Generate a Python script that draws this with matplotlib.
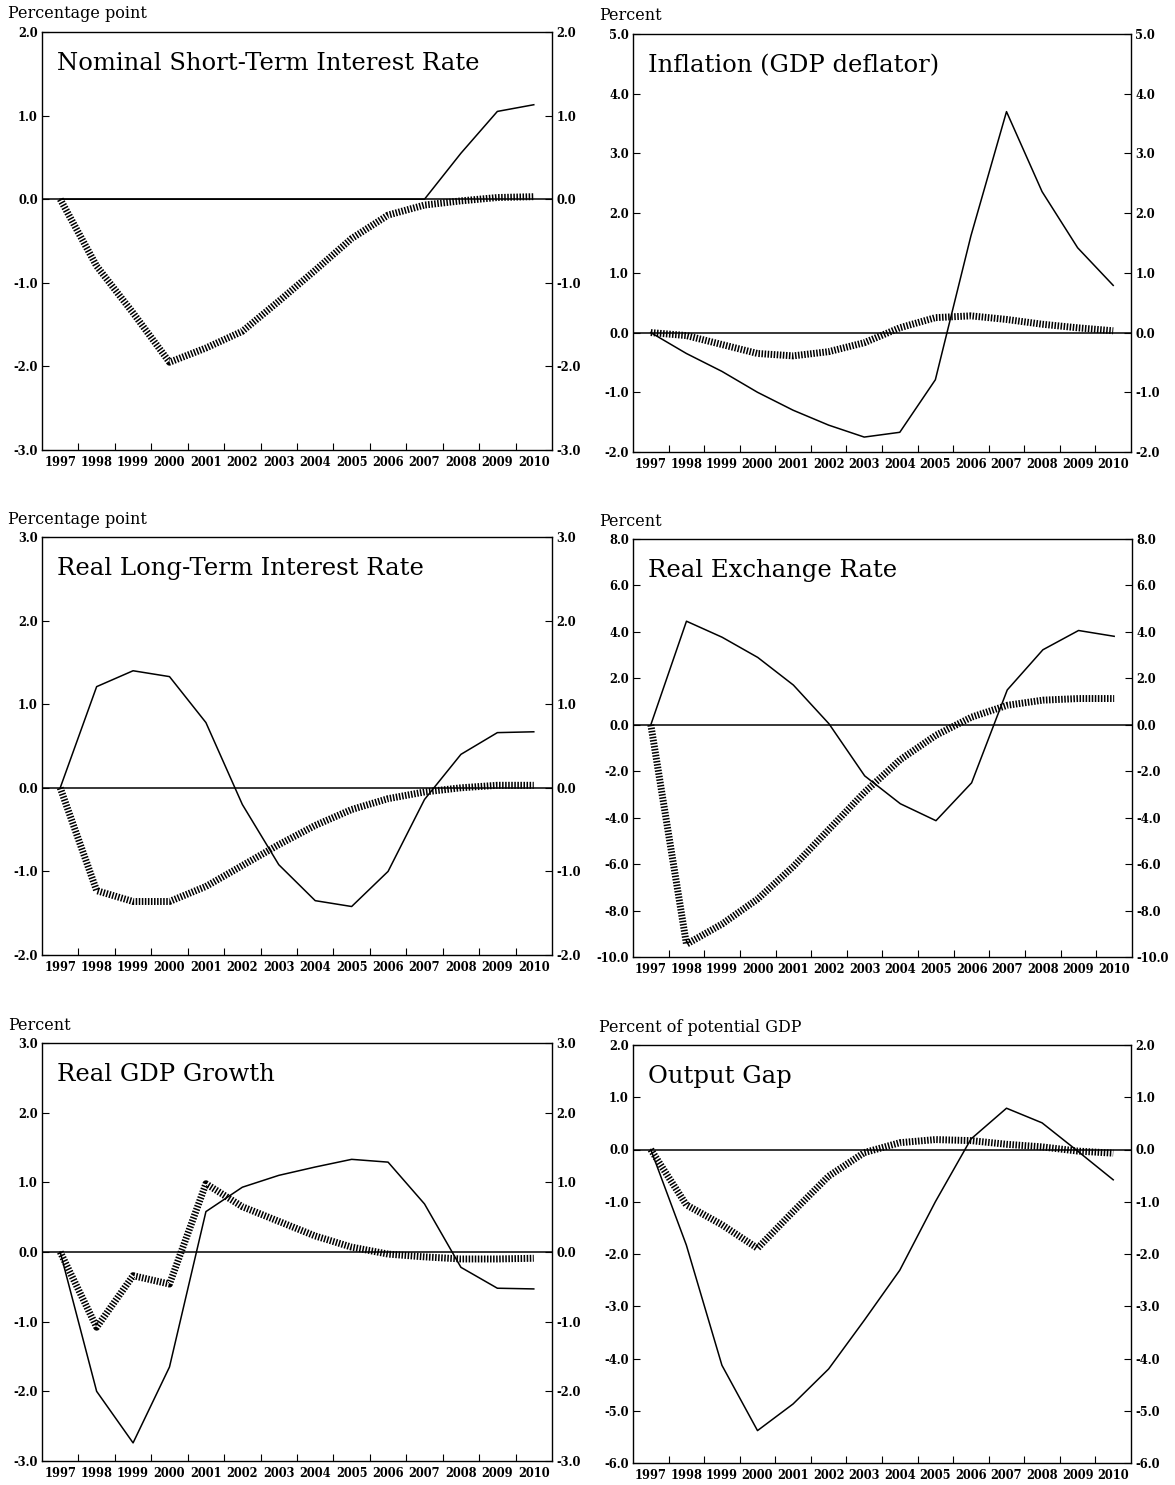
import matplotlib
matplotlib.use("Agg")
import matplotlib.pyplot as plt
from matplotlib.ticker import FixedLocator

years = list(range(1997, 2011))

# Nominal short-term interest rate (percentage point)
nominal_solid = [0.0, 0.0, 0.0, 0.0, 0.0, 0.0, 0.0, 0.0, 0.0, 0.0, 0.0, 0.55, 1.05, 1.13]
nominal_hatched = [0.0, -0.8, -1.36, -1.95, -1.78, -1.58, -1.22, -0.85, -0.47, -0.19, -0.07, -0.02, 0.02, 0.03]

# Inflation (GDP deflator), percent
inflation_solid = [0.0, -0.35, -0.65, -1.0, -1.3, -1.55, -1.75, -1.67, -0.79, 1.62, 3.7, 2.36, 1.42, 0.79]
inflation_hatched = [0.0, -0.05, -0.2, -0.35, -0.39, -0.32, -0.17, 0.08, 0.25, 0.28, 0.22, 0.14, 0.08, 0.03]

# Real long-term interest rate (percentage point)
longrate_solid = [0.0, 1.21, 1.4, 1.33, 0.78, -0.2, -0.92, -1.35, -1.42, -1.0, -0.14, 0.4, 0.66, 0.67]
longrate_hatched = [0.0, -1.23, -1.36, -1.36, -1.18, -0.93, -0.68, -0.45, -0.26, -0.13, -0.05, 0.0, 0.03, 0.03]

# Real exchange rate, percent
exchange_solid = [0.0, 4.46, 3.77, 2.9, 1.71, 0.04, -2.2, -3.4, -4.13, -2.5, 1.5, 3.23, 4.06, 3.81]
exchange_hatched = [0.0, -9.45, -8.58, -7.5, -6.1, -4.5, -2.9, -1.5, -0.45, 0.33, 0.84, 1.06, 1.13, 1.13]

# Real GDP growth, percent
growth_solid = [0.0, -2.0, -2.74, -1.65, 0.58, 0.93, 1.1, 1.22, 1.33, 1.29, 0.69, -0.22, -0.52, -0.53]
growth_hatched = [0.0, -1.08, -0.34, -0.46, 0.98, 0.65, 0.44, 0.23, 0.07, -0.03, -0.07, -0.1, -0.1, -0.09]

# Output gap, percent of potential GDP
gap_solid = [0.0, -1.83, -4.13, -5.38, -4.87, -4.2, -3.27, -2.31, -1.0, 0.2, 0.79, 0.51, -0.03, -0.58]
gap_hatched = [0.0, -1.06, -1.44, -1.89, -1.19, -0.51, -0.06, 0.13, 0.19, 0.17, 0.1, 0.05, -0.03, -0.07]

plt.rcParams['axes.unicode_minus'] = False
plt.rcParams['font.family'] = ['DejaVu Serif']

W, H = 1175, 1485
fig = plt.figure(figsize=(W / 100, H / 100), dpi=100)


def make_panel(box, unit, title, solid, hatched, ymin, ymax, ystep):
    # box = (left, top, right, bottom) in pixels
    left, top, right, bottom = box
    ax = fig.add_axes([left / W, 1 - bottom / H, (right - left) / W, (bottom - top) / H])

    ax.axhline(0, color='black', linewidth=1.1, zorder=1)
    # trait "hachuré" : ligne épaisse en pointillés très serrés
    ax.plot(years, hatched, color='black', linewidth=5.0,
            linestyle=(0, (0.22, 0.22)), solid_capstyle='butt', zorder=2)
    ax.plot(years, solid, color='black', linewidth=1.1, zorder=3)

    ax.set_xlim(1996.5, 2010.5)
    ax.set_ylim(ymin, ymax)

    # ticks between years, labels centered on the years
    ax.xaxis.set_major_locator(FixedLocator([y + 0.5 for y in years[:-1]]))
    ax.xaxis.set_minor_locator(FixedLocator(years))
    ax.set_xticklabels([], minor=False)
    ax.set_xticklabels([str(y) for y in years], minor=True)
    ax.tick_params(axis='x', which='major', direction='in', length=5, width=0.8)
    ax.tick_params(axis='x', which='minor', length=0, pad=4, labelsize=8.3)
    for lab in ax.get_xticklabels(minor=True):
        lab.set_fontweight('bold')

    yt = []
    v = ymin
    while v <= ymax + 1e-9:
        yt.append(round(v, 1))
        v += ystep
    ax.set_yticks(yt)
    ax.set_yticklabels(['%.1f' % t for t in yt])
    ax.tick_params(axis='y', direction='in', length=5, width=0.8, left=True, right=True,
                   labelleft=True, labelright=True, labelsize=8.3, pad=3)
    for lab in ax.get_yticklabels():
        lab.set_fontweight('bold')

    for sp in ax.spines.values():
        sp.set_linewidth(1.0)

    ax.text(0.03, 0.925, title, transform=ax.transAxes, fontsize=17.5,
            family='DejaVu Serif', va='center', ha='left')
    fig.text((left - 34) / W, 1 - (top - 18) / H, unit, fontsize=11.5, va='center', ha='left')
    return ax


make_panel((42, 32, 552, 450), 'Percentage point', 'Nominal Short-Term Interest Rate',
           nominal_solid, nominal_hatched, -3, 2, 1)
make_panel((633, 34, 1131, 452), 'Percent', 'Inflation (GDP deflator)',
           inflation_solid, inflation_hatched, -2, 5, 1)
make_panel((42, 537, 552, 955), 'Percentage point', 'Real Long-Term Interest Rate',
           longrate_solid, longrate_hatched, -2, 3, 1)
make_panel((633, 539, 1132, 957), 'Percent', 'Real Exchange Rate',
           exchange_solid, exchange_hatched, -10, 8, 2)
make_panel((42, 1043, 552, 1461), 'Percent', 'Real GDP Growth',
           growth_solid, growth_hatched, -3, 3, 1)
make_panel((633, 1045, 1131, 1463), 'Percent of potential GDP', 'Output Gap',
           gap_solid, gap_hatched, -6, 2, 1)

plt.savefig('out.png', dpi=100)
plt.close(fig)
